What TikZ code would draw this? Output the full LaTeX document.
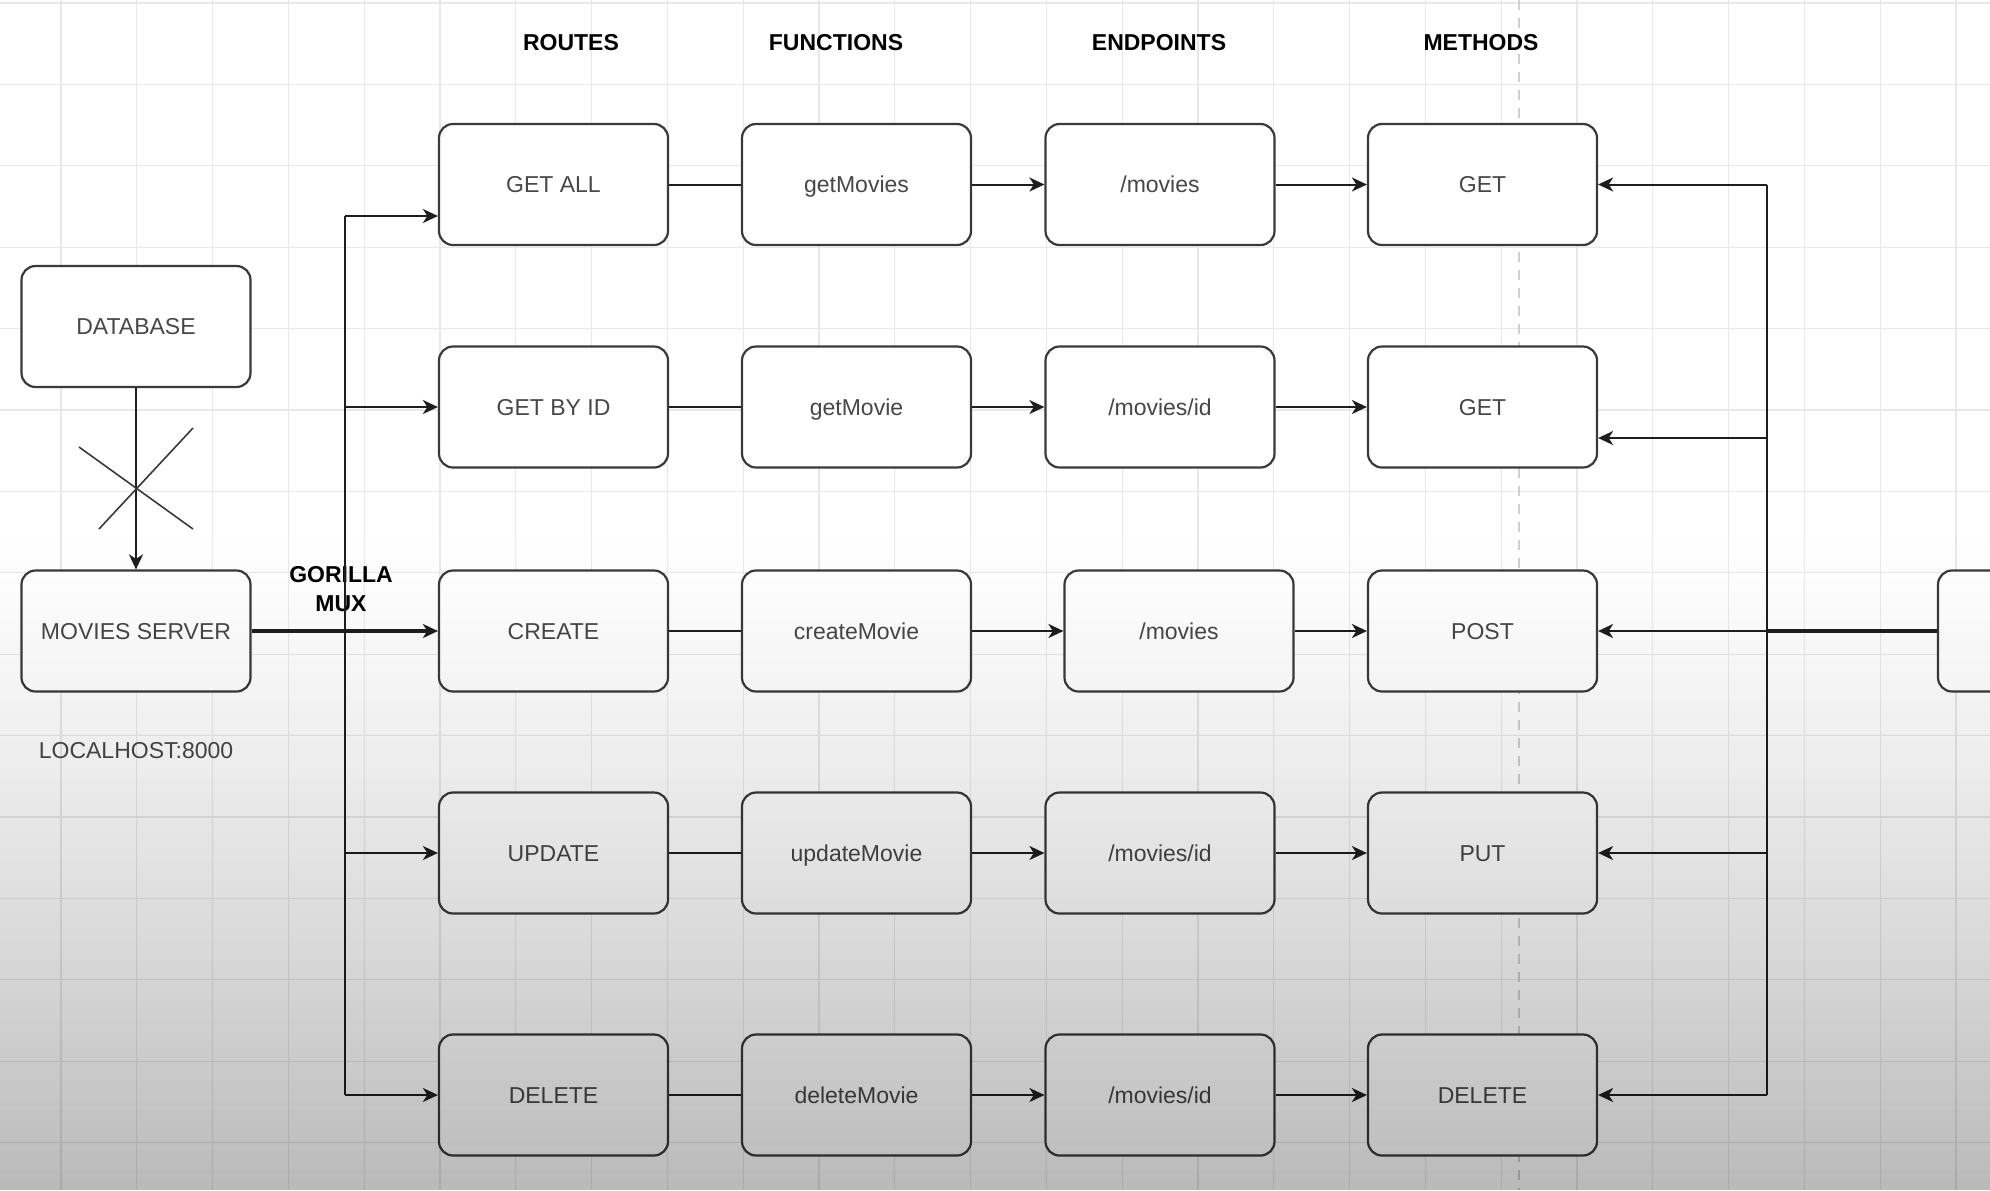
\documentclass[tikz,border=0pt]{standalone}
\usepackage{fontspec}
\setmainfont{Liberation Sans}
\usetikzlibrary{arrows.meta}

\definecolor{boxline}{HTML}{3A3A3A}
\definecolor{labeltext}{HTML}{474747}
\definecolor{linecol}{HTML}{1E1E1E}
\definecolor{gridcol}{HTML}{E8E8E8}
\definecolor{guidecol}{HTML}{D0D0D0}

\begin{document}
\begin{tikzpicture}[x=0.5pt,y=-0.5pt,
  box/.style={draw=boxline, line width=1.1pt, rounded corners=7pt, fill=white,
    minimum width=114.5pt, minimum height=60.5pt, inner sep=0pt,
    text height=8.2pt, text depth=0pt,
    text=labeltext, font=\fontsize{11.5}{13}\selectfont},
  head/.style={font=\bfseries\fontsize{11.5}{13}\selectfont, text=black, inner sep=0pt},
  plain/.style={font=\fontsize{11.5}{13}\selectfont, text=labeltext, inner sep=0pt},
  link/.style={draw=linecol, line width=1pt},
  tip/.style={link, -{Stealth[length=7.5pt,width=7pt,inset=2.2pt]}},
  heavy/.style={line width=1.7pt},
  cross/.style={draw=boxline, line width=0.8pt}
]
% canvas
\path[use as bounding box, clip] (0,0) rectangle (1990,1190);
\fill[white] (0,0) rectangle (1990,1190);

% grid
\foreach \i in {0,...,25} {
  \draw[gridcol, line width=0.6pt] ({61+75.8*\i},0) -- ({61+75.8*\i},1190);
}
\foreach \j in {0,...,14} {
  \draw[gridcol, line width=0.6pt] (0,{3+81.4*\j}) -- (1990,{3+81.4*\j});
}
% guide line through the methods column
\draw[guidecol, line width=0.6pt, dash pattern=on 5pt off 4pt] (1519,0) -- (1519,1190);

% column headers
\node[head] (hroutes) at (571,43) {ROUTES};
\node[head] (hfuncs) at (836,43) {FUNCTIONS};
\node[head] (hends) at (1159,43) {ENDPOINTS};
\node[head] (hmeth) at (1481,43) {METHODS};

% server side
\node[box] (db) at (136,326.5) {DATABASE};
\node[box] (srv) at (136,631) {MOVIES SERVER};
\node[plain] (host) at (136,751) {LOCALHOST:8000};
\node[head, align=center, font=\bfseries\fontsize{11.5}{14.5}\selectfont] (mux) at (341,589) {GORILLA\\MUX};

% routes
\node[box] (r1) at (553.5,184.5) {GET ALL};
\node[box] (r2) at (553.5,407) {GET BY ID};
\node[box] (r3) at (553.5,631) {CREATE};
\node[box] (r4) at (553.5,853) {UPDATE};
\node[box] (r5) at (553.5,1095) {DELETE};

% functions
\node[box] (f1) at (856.5,184.5) {getMovies};
\node[box] (f2) at (856.5,407) {getMovie};
\node[box] (f3) at (856.5,631) {createMovie};
\node[box] (f4) at (856.5,853) {updateMovie};
\node[box] (f5) at (856.5,1095) {deleteMovie};

% endpoints
\node[box] (e1) at (1160,184.5) {/movies};
\node[box] (e2) at (1160,407) {/movies/id};
\node[box] (e3) at (1179,631) {/movies};
\node[box] (e4) at (1160,853) {/movies/id};
\node[box] (e5) at (1160,1095) {/movies/id};

% methods
\node[box] (m1) at (1482.5,184.5) {GET};
\node[box] (m2) at (1482.5,407) {GET};
\node[box] (m3) at (1482.5,631) {POST};
\node[box] (m4) at (1482.5,853) {PUT};
\node[box] (m5) at (1482.5,1095) {DELETE};

% client box at the right edge
\node[box] (client) at (2052.5,631) {};

% database to server, crossed out
\draw[tip] (db.south) -- (srv.north);
\coordinate (xa1) at (79,447);
\coordinate (xa2) at (193,529);
\coordinate (xb1) at (99,529);
\coordinate (xb2) at (193,428);
\draw[cross] (xa1) -- (xa2);
\draw[cross] (xb1) -- (xb2);

% router bus
\coordinate (lt) at (345,216);
\coordinate (l2) at (345,407);
\coordinate (l3) at (345,631);
\coordinate (l4) at (345,853);
\coordinate (lb) at (345,1095);
\draw[link] (lt) -- (lb);
\draw[tip] (lt) -- (lt -| r1.west);
\draw[tip] (l2) -- (r2.west);
\draw[tip] (l4) -- (r4.west);
\draw[tip] (lb) -- (r5.west);
\draw[tip, heavy] (srv.east) -- (r3.west);

% rows
\foreach \k in {1,...,5} {
  \draw[link] (r\k) -- (f\k);
  \draw[tip] (f\k) -- (e\k);
  \draw[tip] (e\k) -- (m\k);
}

% client bus
\coordinate (rt) at (1767,184.5);
\coordinate (r2b) at (1767,438);
\coordinate (r3b) at (1767,631);
\coordinate (r4b) at (1767,853);
\coordinate (rb) at (1767,1095);
\draw[link] (rt) -- (rb);
\draw[link, heavy] (client.west) -- (r3b);
\draw[tip] (rt) -- (m1.east);
\draw[tip] (r2b) -- (r2b -| m2.east);
\draw[tip] (r3b) -- (m3.east);
\draw[tip] (r4b) -- (m4.east);
\draw[tip] (rb) -- (m5.east);

% darkening toward the bottom, in abutting bands
\foreach \s in {0,...,66} {
  \fill[black, opacity={0.27*(\s/66)^1.3}] (0,{520+10*\s}) rectangle (1990,{530+10*\s});
}
\end{tikzpicture}
\end{document}
